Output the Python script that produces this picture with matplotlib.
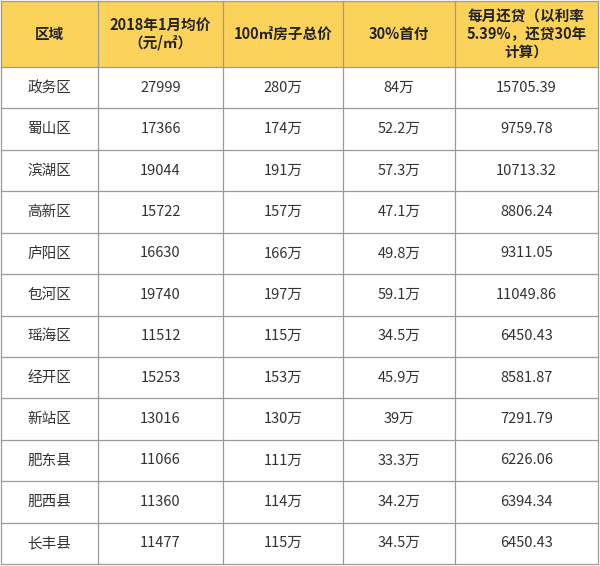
import matplotlib
matplotlib.use("Agg")
import matplotlib.pyplot as plt
from matplotlib.patches import Rectangle

plt.rcParams["font.family"] = ["Noto Sans CJK SC", "DejaVu Sans"]

headers = ["区域", "2018年1月均价\n（元/㎡）", "100㎡房子总价", "30%首付", "每月还贷（以利率\n5.39%，还贷30年\n计算）"]
districts = ["政务区", "蜀山区", "滨湖区", "高新区", "庐阳区", "包河区", "瑶海区", "经开区", "新站区", "肥东县", "肥西县", "长丰县"]
avg_price = ["27999", "17366", "19044", "15722", "16630", "19740", "11512", "15253", "13016", "11066", "11360", "11477"]
total_price = ["280万", "174万", "191万", "157万", "166万", "197万", "115万", "153万", "130万", "111万", "114万", "115万"]
down_payment = ["84万", "52.2万", "57.3万", "47.1万", "49.8万", "59.1万", "34.5万", "45.9万", "39万", "33.3万", "34.2万", "34.5万"]
monthly = ["15705.39", "9759.78", "10713.32", "8806.24", "9311.05", "11049.86", "6450.43", "8581.87", "7291.79", "6226.06", "6394.34", "6450.43"]

W, H = 600, 566
fig = plt.figure(figsize=(6, 5.66), dpi=100)
ax = fig.add_axes([0, 0, 1, 1])
ax.set_xlim(0, W)
ax.set_ylim(H, 0)
ax.axis("off")

cols = [1, 98, 223, 343, 455, 598]
top, head_bot, bottom = 1, 67, 564
n = len(districts)
rh = (bottom - head_bot) / n

ax.add_patch(Rectangle((cols[0], top), cols[-1] - cols[0], head_bot - top, facecolor="#FCD35A", edgecolor="none"))
line_c = "#9a9a9a"
for x in cols:
    ax.plot([x, x], [top, bottom], color=line_c, lw=0.9)
ys = [top, head_bot] + [head_bot + rh * (i + 1) for i in range(n)]
for y in ys:
    ax.plot([cols[0], cols[-1]], [y, y], color=line_c, lw=0.9)

for j, h in enumerate(headers):
    ax.text((cols[j] + cols[j + 1]) / 2, (top + head_bot) / 2, h, ha="center", va="center",
            fontsize=10.5, fontweight="bold", color="#222222", linespacing=1.15)

rows = list(zip(districts, avg_price, total_price, down_payment, monthly))
for i, r in enumerate(rows):
    yc = head_bot + rh * (i + 0.5)
    for j, v in enumerate(r):
        ax.text((cols[j] + cols[j + 1]) / 2, yc, v, ha="center", va="center", fontsize=10.5, color="#333333")

fig.savefig("out.png", dpi=100, facecolor="white")
